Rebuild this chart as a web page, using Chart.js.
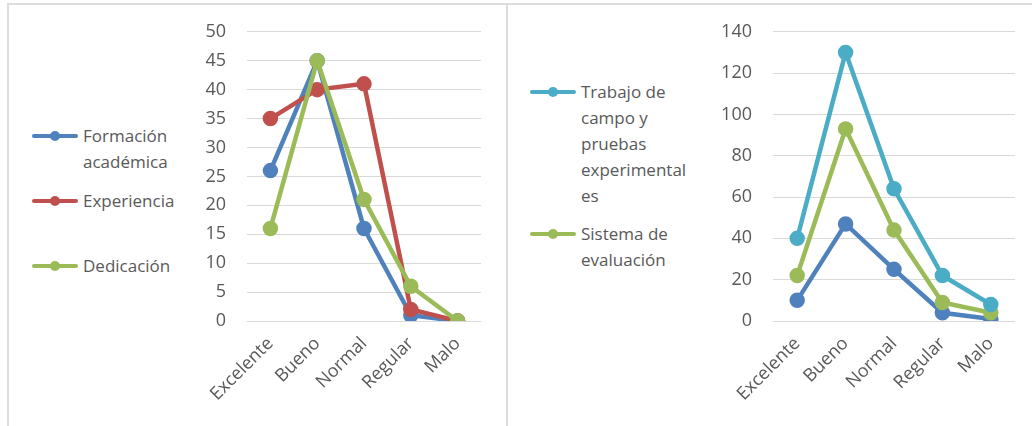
<!DOCTYPE html>
<html><head><meta charset="utf-8">
<script src="https://cdn.jsdelivr.net/npm/chart.js@4.4.1/dist/chart.umd.min.js"></script>
<style>
body{margin:0;width:1032px;height:426px;background:#fff;position:relative;overflow:hidden;font-family:'Open Sans',sans-serif;color:#595959}
.ln{position:absolute;background:#dcdcdc}
.lg{position:absolute;font-size:17px;line-height:26px;white-space:nowrap;color:#595959}
.sym{position:absolute;width:46px;height:4px;border-radius:2px}
.dot{position:absolute;width:10px;height:10px;border-radius:5px}
canvas{position:absolute;top:0}
</style></head><body>
<div class="ln" style="left:8px;top:3px;width:1024px;height:2px"></div>
<div class="ln" style="left:7px;top:3px;width:2px;height:423px"></div>
<div class="ln" style="left:506px;top:3px;width:2px;height:423px"></div>
<canvas id="c1" width="320" height="426" style="left:180px;width:320px;height:426px"></canvas>
<canvas id="c2" width="332" height="426" style="left:700px;width:332px;height:426px"></canvas>
<div id="legends"></div>
<script>
const categories = ['Excelente','Bueno','Normal','Regular','Malo'];

// Left chart
const leftNames = ['Formación académica','Experiencia','Dedicación'];
const formacion = [26, 45, 16, 1, 0];
const experiencia = [35, 40, 41, 2, 0];
const dedicacion = [16, 45, 21, 6, 0];
const leftTicks = [0,5,10,15,20,25,30,35,40,45,50];

// Right chart
const rightNames = ['Serie 1','Trabajo de campo y pruebas experimentales','Sistema de evaluación'];
const serie1 = [10, 47, 25, 4, 1];
const trabajoCampo = [40, 130, 64, 22, 8];
const sistemaEval = [22, 93, 44, 9, 4];
const rightTicks = [0,20,40,60,80,100,120,140];

const BLUE='#4F81BD', RED='#C0504D', GREEN='#9BBB59', CYAN='#4BACC6';

function ds(label, data, color, order){
  return {label, data, borderColor:color, backgroundColor:color, borderWidth:4.5,
    pointRadius:5.5, pointHoverRadius:5.5, pointBackgroundColor:color, pointBorderColor:color,
    tension:0, fill:false, order};
}

function makeOpts(ticksArr, yWidth, padRight){
  return {
    responsive:false, animation:false, devicePixelRatio:1,
    layout:{padding:{top:28,right:padRight,bottom:0,left:0}},
    plugins:{legend:{display:false}, tooltip:{enabled:false}},
    scales:{
      x:{offset:true, grid:{display:false}, border:{display:false},
        ticks:{color:'#595959', font:{family:'Open Sans', size:18}, minRotation:45, maxRotation:45, padding:4, autoSkip:false},
        afterFit:(s)=>{s.height=105;}},
      y:{min:ticksArr[0], max:ticksArr[ticksArr.length-1],
        afterBuildTicks:(s)=>{s.ticks=ticksArr.map(v=>({value:v}));},
        grid:{color:'#d9d9d9', lineWidth:1, drawTicks:false}, border:{display:false},
        ticks:{color:'#595959', font:{family:'Open Sans', size:18}, padding:21},
        afterFit:(s)=>{s.width=yWidth;}}
    }
  };
}

new Chart(document.getElementById('c1'), {
  type:'line',
  data:{labels:categories, datasets:[
    ds(leftNames[0], formacion, BLUE, 2),
    ds(leftNames[1], experiencia, RED, 1),
    ds(leftNames[2], dedicacion, GREEN, 0)
  ]},
  options:makeOpts(leftTicks, 67, 19)
});

new Chart(document.getElementById('c2'), {
  type:'line',
  data:{labels:categories, datasets:[
    ds(rightNames[0], serie1, BLUE, 2),
    ds(rightNames[1], trabajoCampo, CYAN, 0),
    ds(rightNames[2], sistemaEval, GREEN, 1)
  ]},
  options:makeOpts(rightTicks, 73, 17)
});

// HTML legends (wrapped like the reference)
const legendItems = [
  {x:32, y:136, color:BLUE, lines:['Formación','académica']},
  {x:32, y:201, color:RED, lines:['Experiencia']},
  {x:32, y:266, color:GREEN, lines:['Dedicación']},
  {x:530, y:92, color:CYAN, lines:['Trabajo de','campo y','pruebas','experimental','es']},
  {x:530, y:234, color:GREEN, lines:['Sistema de','evaluación']}
];
const host = document.getElementById('legends');
legendItems.forEach(it=>{
  const s=document.createElement('div'); s.className='sym';
  s.style.left=it.x+'px'; s.style.top=(it.y-2)+'px'; s.style.background=it.color; host.appendChild(s);
  const d=document.createElement('div'); d.className='dot';
  d.style.left=(it.x+18)+'px'; d.style.top=(it.y-5)+'px'; d.style.background=it.color; host.appendChild(d);
  const t=document.createElement('div'); t.className='lg';
  t.style.left=(it.x+51)+'px'; t.style.top=(it.y-13)+'px';
  t.innerHTML=it.lines.join('<br>'); host.appendChild(t);
});
</script>
</body></html>
